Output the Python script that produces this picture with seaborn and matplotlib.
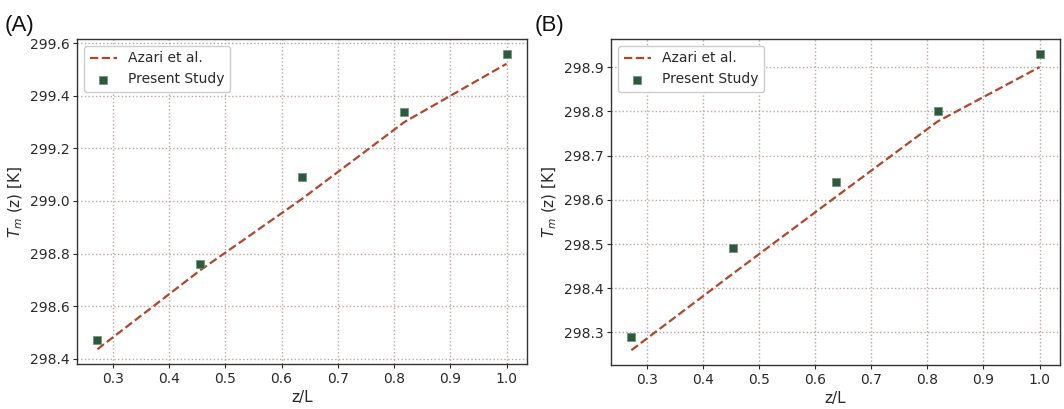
import matplotlib
matplotlib.use("Agg")
import matplotlib.pyplot as plt
import seaborn as sns
import pandas as pd

z_over_L = [0.2727, 0.4545, 0.6364, 0.8182, 1.0]

# Panel A
azari_a = [298.436, 298.735, 299.008, 299.300, 299.522]
present_a = [298.47, 298.76, 299.09, 299.34, 299.56]

# Panel B
azari_b = [298.260, 298.434, 298.606, 298.777, 298.900]
present_b = [298.29, 298.49, 298.64, 298.80, 298.93]

panel_labels = ["(A)", "(B)"]

sns.set_theme(style="white")
plt.rcParams["font.family"] = ["DejaVu Sans"]

line_color = "#b5452a"
marker_color = "#2b5a3c"
grid_color = "#b8a8a0"
text_color = "#2a2a2a"

W, H = 1064, 409
fig = plt.figure(figsize=(W / 100, H / 100), dpi=100)
ax_a = fig.add_axes([77 / W, 1 - 364 / H, (527 - 77) / W, (364 - 39) / H])
ax_b = fig.add_axes([611 / W, 1 - 365 / H, (1060 - 611) / W, (365 - 39) / H])

for ax, azari, present in [(ax_a, azari_a, present_a), (ax_b, azari_b, present_b)]:
    df = pd.DataFrame({"z/L": z_over_L, "azari": azari, "present": present})
    sns.lineplot(data=df, x="z/L", y="azari", ax=ax, color=line_color,
                 linestyle="--", linewidth=1.6, label="Azari et al.")
    sns.scatterplot(data=df, x="z/L", y="present", ax=ax, color=marker_color,
                    marker="s", s=38, edgecolor="#6f8f78", linewidth=0.5,
                    label="Present Study", zorder=3)
    ax.grid(True, linestyle=":", color=grid_color, linewidth=1.0)
    ax.set_axisbelow(True)
    for sp in ax.spines.values():
        sp.set_color("#333333")
        sp.set_linewidth(1.0)
    ax.tick_params(axis="both", which="both", labelsize=10, colors=text_color,
                   length=3, width=0.8, pad=2.5, bottom=True, left=True)
    ax.set_xlabel("z/L", fontsize=11, color=text_color, labelpad=3)
    ax.set_ylabel(r"$T_m$ (z) [K]", fontsize=11, color=text_color, labelpad=3)
    ax.set_xticks([0.3, 0.4, 0.5, 0.6, 0.7, 0.8, 0.9, 1.0])
    leg = ax.legend(loc="upper left", fontsize=10, frameon=True,
                    edgecolor="#cccccc", framealpha=1.0, fancybox=True)
    for t in leg.get_texts():
        t.set_color(text_color)

ax_a.set_yticks([298.4, 298.6, 298.8, 299.0, 299.2, 299.4, 299.6])
ax_a.set_yticklabels(["298.4", "298.6", "298.8", "299.0", "299.2", "299.4", "299.6"])
ax_b.set_yticks([298.3, 298.4, 298.5, 298.6, 298.7, 298.8, 298.9])
ax_b.set_yticklabels(["298.3", "298.4", "298.5", "298.6", "298.7", "298.8", "298.9"])

fig.text(5 / W, 1 - 31 / H, panel_labels[0], fontsize=16, color="#111111",
         family="Liberation Sans")
fig.text(535 / W, 1 - 31 / H, panel_labels[1], fontsize=16, color="#111111",
         family="Liberation Sans")

fig.savefig("out.png", dpi=100)
